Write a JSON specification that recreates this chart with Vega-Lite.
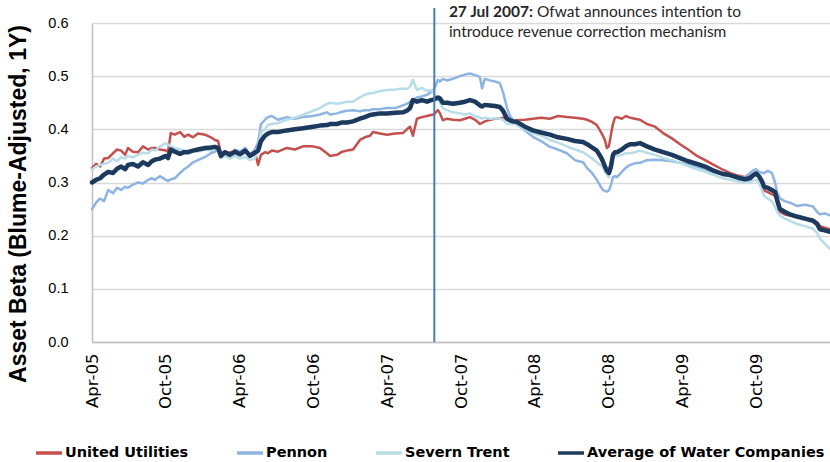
{
  "$schema": "https://vega.github.io/schema/vega-lite/v6.json",
  "width": 738,
  "height": 319,
  "autosize": {"type": "none"},
  "padding": {"left": 92, "top": 23, "right": 0, "bottom": 120},
  "background": "white",
  "config": {
    "view": {"stroke": null},
    "font": "Liberation Sans",
    "legend": {
      "orient": "none", "legendX": -58, "legendY": 415, "direction": "horizontal", "title": null,
      "symbolType": "stroke", "symbolSize": 676, "symbolStrokeWidth": 3.5,
      "labelFont": "DejaVu Sans", "labelFontWeight": "bold", "labelFontSize": 14.5, "labelColor": "#000000",
      "labelOffset": 1, "columnPadding": 41, "padding": 0, "labelLimit": 400
    }
  },
  "datasets": {
    "beta": [
      {"d":"2005-04-01","UU":0.327,"PN":0.250,"ST":0.325,"AV":0.300},
      {"d":"2005-04-11","UU":0.335,"PN":0.262,"ST":0.330,"AV":0.305},
      {"d":"2005-04-21","UU":0.330,"PN":0.270,"ST":0.333,"AV":0.308},
      {"d":"2005-05-01","UU":0.345,"PN":0.265,"ST":0.335,"AV":0.315},
      {"d":"2005-05-11","UU":0.346,"PN":0.286,"ST":0.337,"AV":0.320},
      {"d":"2005-05-23","UU":0.355,"PN":0.280,"ST":0.345,"AV":0.318},
      {"d":"2005-06-02","UU":0.362,"PN":0.290,"ST":0.340,"AV":0.326},
      {"d":"2005-06-12","UU":0.360,"PN":0.286,"ST":0.348,"AV":0.330},
      {"d":"2005-06-22","UU":0.352,"PN":0.292,"ST":0.345,"AV":0.325},
      {"d":"2005-06-29","UU":0.365,"PN":0.290,"ST":0.350,"AV":0.333},
      {"d":"2005-07-11","UU":0.358,"PN":0.296,"ST":0.347,"AV":0.335},
      {"d":"2005-07-24","UU":0.357,"PN":0.300,"ST":0.352,"AV":0.330},
      {"d":"2005-08-05","UU":0.368,"PN":0.298,"ST":0.356,"AV":0.338},
      {"d":"2005-08-18","UU":0.362,"PN":0.305,"ST":0.355,"AV":0.333},
      {"d":"2005-08-27","UU":0.365,"PN":0.308,"ST":0.362,"AV":0.340},
      {"d":"2005-09-04","UU":0.365,"PN":0.305,"ST":0.360,"AV":0.343},
      {"d":"2005-09-16","UU":0.362,"PN":0.312,"ST":0.368,"AV":0.345},
      {"d":"2005-10-01","UU":0.360,"PN":0.305,"ST":0.374,"AV":0.350},
      {"d":"2005-10-06","UU":0.358,"PN":0.303,"ST":0.372,"AV":0.346},
      {"d":"2005-10-13","UU":0.393,"PN":0.306,"ST":0.367,"AV":0.362},
      {"d":"2005-10-23","UU":0.390,"PN":0.308,"ST":0.365,"AV":0.358},
      {"d":"2005-11-05","UU":0.395,"PN":0.318,"ST":0.362,"AV":0.354},
      {"d":"2005-11-15","UU":0.386,"PN":0.325,"ST":0.360,"AV":0.357},
      {"d":"2005-11-25","UU":0.390,"PN":0.330,"ST":0.360,"AV":0.357},
      {"d":"2005-12-07","UU":0.385,"PN":0.338,"ST":0.362,"AV":0.360},
      {"d":"2005-12-19","UU":0.392,"PN":0.342,"ST":0.358,"AV":0.362},
      {"d":"2006-01-06","UU":0.390,"PN":0.348,"ST":0.362,"AV":0.365},
      {"d":"2006-01-20","UU":0.385,"PN":0.355,"ST":0.360,"AV":0.366},
      {"d":"2006-01-30","UU":0.380,"PN":0.358,"ST":0.365,"AV":0.367},
      {"d":"2006-02-07","UU":0.378,"PN":0.362,"ST":0.360,"AV":0.365},
      {"d":"2006-02-14","UU":0.355,"PN":0.355,"ST":0.346,"AV":0.350},
      {"d":"2006-02-24","UU":0.358,"PN":0.358,"ST":0.350,"AV":0.357},
      {"d":"2006-03-08","UU":0.356,"PN":0.352,"ST":0.345,"AV":0.352},
      {"d":"2006-03-21","UU":0.360,"PN":0.362,"ST":0.350,"AV":0.358},
      {"d":"2006-04-02","UU":0.355,"PN":0.358,"ST":0.345,"AV":0.353},
      {"d":"2006-04-15","UU":0.362,"PN":0.365,"ST":0.348,"AV":0.360},
      {"d":"2006-04-27","UU":0.352,"PN":0.352,"ST":0.342,"AV":0.350},
      {"d":"2006-05-09","UU":0.358,"PN":0.362,"ST":0.345,"AV":0.356},
      {"d":"2006-05-17","UU":0.333,"PN":0.375,"ST":0.360,"AV":0.360},
      {"d":"2006-05-24","UU":0.352,"PN":0.410,"ST":0.395,"AV":0.378},
      {"d":"2006-06-03","UU":0.357,"PN":0.418,"ST":0.400,"AV":0.388},
      {"d":"2006-06-10","UU":0.355,"PN":0.423,"ST":0.408,"AV":0.392},
      {"d":"2006-06-20","UU":0.360,"PN":0.425,"ST":0.410,"AV":0.395},
      {"d":"2006-07-05","UU":0.358,"PN":0.418,"ST":0.412,"AV":0.395},
      {"d":"2006-07-27","UU":0.365,"PN":0.423,"ST":0.418,"AV":0.398},
      {"d":"2006-08-16","UU":0.362,"PN":0.420,"ST":0.422,"AV":0.400},
      {"d":"2006-09-05","UU":0.368,"PN":0.423,"ST":0.427,"AV":0.402},
      {"d":"2006-09-30","UU":0.368,"PN":0.425,"ST":0.435,"AV":0.405},
      {"d":"2006-10-17","UU":0.365,"PN":0.428,"ST":0.440,"AV":0.407},
      {"d":"2006-11-03","UU":0.355,"PN":0.432,"ST":0.448,"AV":0.408},
      {"d":"2006-11-11","UU":0.350,"PN":0.428,"ST":0.450,"AV":0.410},
      {"d":"2006-11-28","UU":0.352,"PN":0.430,"ST":0.448,"AV":0.410},
      {"d":"2006-12-11","UU":0.358,"PN":0.433,"ST":0.450,"AV":0.413},
      {"d":"2006-12-23","UU":0.360,"PN":0.435,"ST":0.452,"AV":0.413},
      {"d":"2007-01-07","UU":0.362,"PN":0.436,"ST":0.452,"AV":0.415},
      {"d":"2007-01-24","UU":0.380,"PN":0.434,"ST":0.460,"AV":0.420},
      {"d":"2007-02-05","UU":0.385,"PN":0.436,"ST":0.465,"AV":0.423},
      {"d":"2007-02-18","UU":0.388,"PN":0.436,"ST":0.468,"AV":0.427},
      {"d":"2007-02-25","UU":0.395,"PN":0.438,"ST":0.468,"AV":0.428},
      {"d":"2007-03-15","UU":0.392,"PN":0.438,"ST":0.472,"AV":0.430},
      {"d":"2007-04-01","UU":0.390,"PN":0.440,"ST":0.474,"AV":0.430},
      {"d":"2007-04-21","UU":0.392,"PN":0.440,"ST":0.475,"AV":0.431},
      {"d":"2007-05-10","UU":0.393,"PN":0.445,"ST":0.477,"AV":0.432},
      {"d":"2007-05-20","UU":0.400,"PN":0.448,"ST":0.476,"AV":0.435},
      {"d":"2007-05-28","UU":0.405,"PN":0.452,"ST":0.480,"AV":0.440},
      {"d":"2007-06-04","UU":0.388,"PN":0.455,"ST":0.493,"AV":0.455},
      {"d":"2007-06-14","UU":0.420,"PN":0.460,"ST":0.474,"AV":0.452},
      {"d":"2007-06-26","UU":0.423,"PN":0.462,"ST":0.478,"AV":0.455},
      {"d":"2007-07-09","UU":0.425,"PN":0.465,"ST":0.472,"AV":0.452},
      {"d":"2007-07-19","UU":0.427,"PN":0.470,"ST":0.474,"AV":0.455},
      {"d":"2007-07-26","UU":0.428,"PN":0.475,"ST":0.468,"AV":0.456},
      {"d":"2007-08-05","UU":0.436,"PN":0.493,"ST":0.455,"AV":0.460},
      {"d":"2007-08-10","UU":0.430,"PN":0.490,"ST":0.450,"AV":0.458},
      {"d":"2007-08-17","UU":0.417,"PN":0.495,"ST":0.440,"AV":0.450},
      {"d":"2007-08-27","UU":0.420,"PN":0.492,"ST":0.436,"AV":0.450},
      {"d":"2007-09-11","UU":0.418,"PN":0.495,"ST":0.432,"AV":0.448},
      {"d":"2007-09-28","UU":0.417,"PN":0.500,"ST":0.430,"AV":0.450},
      {"d":"2007-10-11","UU":0.420,"PN":0.503,"ST":0.428,"AV":0.452},
      {"d":"2007-10-23","UU":0.423,"PN":0.505,"ST":0.430,"AV":0.455},
      {"d":"2007-11-05","UU":0.418,"PN":0.502,"ST":0.425,"AV":0.452},
      {"d":"2007-11-17","UU":0.410,"PN":0.498,"ST":0.422,"AV":0.445},
      {"d":"2007-11-22","UU":0.412,"PN":0.477,"ST":0.420,"AV":0.443},
      {"d":"2007-11-29","UU":0.415,"PN":0.495,"ST":0.422,"AV":0.446},
      {"d":"2007-12-12","UU":0.418,"PN":0.492,"ST":0.420,"AV":0.445},
      {"d":"2007-12-24","UU":0.420,"PN":0.490,"ST":0.421,"AV":0.444},
      {"d":"2008-01-05","UU":0.420,"PN":0.487,"ST":0.420,"AV":0.442},
      {"d":"2008-01-13","UU":0.422,"PN":0.470,"ST":0.418,"AV":0.435},
      {"d":"2008-01-23","UU":0.418,"PN":0.440,"ST":0.410,"AV":0.420},
      {"d":"2008-01-30","UU":0.418,"PN":0.425,"ST":0.410,"AV":0.417},
      {"d":"2008-02-07","UU":0.416,"PN":0.417,"ST":0.410,"AV":0.415},
      {"d":"2008-02-16","UU":0.417,"PN":0.410,"ST":0.408,"AV":0.414},
      {"d":"2008-03-07","UU":0.418,"PN":0.398,"ST":0.400,"AV":0.405},
      {"d":"2008-03-27","UU":0.420,"PN":0.386,"ST":0.393,"AV":0.398},
      {"d":"2008-04-16","UU":0.422,"PN":0.378,"ST":0.388,"AV":0.394},
      {"d":"2008-05-08","UU":0.420,"PN":0.367,"ST":0.380,"AV":0.390},
      {"d":"2008-05-28","UU":0.425,"PN":0.362,"ST":0.375,"AV":0.385},
      {"d":"2008-06-19","UU":0.423,"PN":0.355,"ST":0.368,"AV":0.382},
      {"d":"2008-07-09","UU":0.422,"PN":0.342,"ST":0.362,"AV":0.378},
      {"d":"2008-07-29","UU":0.420,"PN":0.338,"ST":0.357,"AV":0.376},
      {"d":"2008-08-08","UU":0.418,"PN":0.327,"ST":0.352,"AV":0.372},
      {"d":"2008-08-20","UU":0.414,"PN":0.318,"ST":0.345,"AV":0.366},
      {"d":"2008-09-01","UU":0.408,"PN":0.305,"ST":0.338,"AV":0.360},
      {"d":"2008-09-11","UU":0.395,"PN":0.292,"ST":0.332,"AV":0.348},
      {"d":"2008-09-16","UU":0.388,"PN":0.286,"ST":0.330,"AV":0.340},
      {"d":"2008-09-21","UU":0.380,"PN":0.284,"ST":0.320,"AV":0.330},
      {"d":"2008-09-26","UU":0.365,"PN":0.283,"ST":0.315,"AV":0.322},
      {"d":"2008-10-01","UU":0.368,"PN":0.285,"ST":0.310,"AV":0.318},
      {"d":"2008-10-06","UU":0.390,"PN":0.295,"ST":0.322,"AV":0.330},
      {"d":"2008-10-11","UU":0.410,"PN":0.310,"ST":0.345,"AV":0.352},
      {"d":"2008-10-16","UU":0.422,"PN":0.312,"ST":0.350,"AV":0.357},
      {"d":"2008-10-21","UU":0.423,"PN":0.310,"ST":0.350,"AV":0.357},
      {"d":"2008-11-02","UU":0.420,"PN":0.320,"ST":0.352,"AV":0.362},
      {"d":"2008-11-12","UU":0.425,"PN":0.328,"ST":0.355,"AV":0.368},
      {"d":"2008-11-22","UU":0.422,"PN":0.333,"ST":0.355,"AV":0.372},
      {"d":"2008-12-04","UU":0.420,"PN":0.336,"ST":0.357,"AV":0.372},
      {"d":"2008-12-17","UU":0.418,"PN":0.337,"ST":0.360,"AV":0.374},
      {"d":"2009-01-03","UU":0.410,"PN":0.342,"ST":0.356,"AV":0.368},
      {"d":"2009-01-23","UU":0.405,"PN":0.343,"ST":0.352,"AV":0.362},
      {"d":"2009-02-12","UU":0.393,"PN":0.342,"ST":0.346,"AV":0.357},
      {"d":"2009-03-06","UU":0.383,"PN":0.340,"ST":0.342,"AV":0.352},
      {"d":"2009-03-26","UU":0.372,"PN":0.337,"ST":0.337,"AV":0.346},
      {"d":"2009-04-15","UU":0.362,"PN":0.334,"ST":0.331,"AV":0.340},
      {"d":"2009-05-07","UU":0.350,"PN":0.330,"ST":0.325,"AV":0.335},
      {"d":"2009-05-27","UU":0.342,"PN":0.325,"ST":0.320,"AV":0.330},
      {"d":"2009-06-15","UU":0.334,"PN":0.320,"ST":0.315,"AV":0.323},
      {"d":"2009-07-10","UU":0.324,"PN":0.316,"ST":0.308,"AV":0.316},
      {"d":"2009-07-27","UU":0.318,"PN":0.314,"ST":0.305,"AV":0.314},
      {"d":"2009-08-16","UU":0.313,"PN":0.311,"ST":0.302,"AV":0.309},
      {"d":"2009-09-03","UU":0.310,"PN":0.310,"ST":0.300,"AV":0.306},
      {"d":"2009-09-15","UU":0.312,"PN":0.318,"ST":0.301,"AV":0.308},
      {"d":"2009-09-22","UU":0.315,"PN":0.322,"ST":0.303,"AV":0.313},
      {"d":"2009-09-30","UU":0.318,"PN":0.325,"ST":0.305,"AV":0.317},
      {"d":"2009-10-07","UU":0.310,"PN":0.320,"ST":0.300,"AV":0.312},
      {"d":"2009-10-15","UU":0.295,"PN":0.318,"ST":0.285,"AV":0.302},
      {"d":"2009-10-20","UU":0.285,"PN":0.318,"ST":0.275,"AV":0.292},
      {"d":"2009-10-29","UU":0.282,"PN":0.322,"ST":0.270,"AV":0.290},
      {"d":"2009-11-08","UU":0.278,"PN":0.318,"ST":0.265,"AV":0.286},
      {"d":"2009-11-16","UU":0.275,"PN":0.300,"ST":0.255,"AV":0.282},
      {"d":"2009-11-21","UU":0.262,"PN":0.282,"ST":0.245,"AV":0.268},
      {"d":"2009-11-28","UU":0.245,"PN":0.270,"ST":0.238,"AV":0.250},
      {"d":"2009-12-10","UU":0.240,"PN":0.265,"ST":0.232,"AV":0.245},
      {"d":"2009-12-23","UU":0.238,"PN":0.262,"ST":0.228,"AV":0.240},
      {"d":"2010-01-09","UU":0.235,"PN":0.256,"ST":0.222,"AV":0.236},
      {"d":"2010-01-29","UU":0.232,"PN":0.258,"ST":0.218,"AV":0.232},
      {"d":"2010-02-18","UU":0.230,"PN":0.255,"ST":0.213,"AV":0.228},
      {"d":"2010-02-28","UU":0.225,"PN":0.245,"ST":0.205,"AV":0.222},
      {"d":"2010-03-07","UU":0.218,"PN":0.240,"ST":0.195,"AV":0.212},
      {"d":"2010-03-19","UU":0.215,"PN":0.242,"ST":0.185,"AV":0.210},
      {"d":"2010-04-01","UU":0.212,"PN":0.238,"ST":0.175,"AV":0.207}
    ]
  },
  "encoding": {
    "x": {
      "field": "d", "type": "temporal",
      "scale": {"type": "utc", "nice": false, "domain": [{"year": 2005, "month": 4, "date": 1, "utc": true}, {"year": 2010, "month": 4, "date": 1, "utc": true}]},
      "axis": {
        "values": [
          {"year": 2005, "month": 4, "date": 1, "utc": true}, {"year": 2005, "month": 10, "date": 1, "utc": true},
          {"year": 2006, "month": 4, "date": 1, "utc": true}, {"year": 2006, "month": 10, "date": 1, "utc": true},
          {"year": 2007, "month": 4, "date": 1, "utc": true}, {"year": 2007, "month": 10, "date": 1, "utc": true},
          {"year": 2008, "month": 4, "date": 1, "utc": true}, {"year": 2008, "month": 10, "date": 1, "utc": true},
          {"year": 2009, "month": 4, "date": 1, "utc": true}, {"year": 2009, "month": 10, "date": 1, "utc": true}
        ],
        "format": "%b-%y", "labelAngle": 270, "labelFont": "DejaVu Sans", "labelFontSize": 16.5, "labelColor": "#000000",
        "labelPadding": 11, "ticks": false, "tickSize": 0, "grid": false, "domainColor": "#BFBFBF", "domainWidth": 1.5,
        "title": null, "labelOverlap": false, "labelFlush": false
      }
    },
    "y": {
      "field": "v", "type": "quantitative",
      "scale": {"domain": [0, 0.6], "nice": false},
      "axis": {
        "values": [0, 0.1, 0.2, 0.3, 0.4, 0.5, 0.6], "format": ".1f",
        "labelFont": "Liberation Sans", "labelFontSize": 14.5, "labelColor": "#000000", "labelPadding": 24,
        "ticks": false, "tickSize": 0, "grid": true, "gridColor": "#D9D9D9", "gridWidth": 1.5,
        "domainColor": "#BFBFBF", "domainWidth": 1.5,
        "title": "Asset Beta (Blume-Adjusted, 1Y)", "titleFont": "Liberation Sans", "titleFontSize": 23,
        "titleFontWeight": "bold", "titleColor": "#000000", "titleX": -62, "titleY": 180.5
      }
    }
  },
  "layer": [
    {
      "data": {"name": "beta"},
      "transform": [{"fold": ["UU", "PN", "ST"], "as": ["s", "v"]}],
      "mark": {"type": "line", "strokeWidth": 2.5, "strokeJoin": "round", "strokeCap": "round"},
      "encoding": {
        "color": {
          "field": "s", "type": "nominal",
          "scale": {"domain": ["UU", "PN", "ST", "AV"], "range": ["#C4504D", "#8EB4E3", "#B7DDE8", "#1C3A5E"]},
          "legend": {"labelExpr": "datum.label == 'UU' ? 'United Utilities' : datum.label == 'PN' ? 'Pennon' : datum.label == 'ST' ? 'Severn Trent' : 'Average of Water Companies'"}
        }
      }
    },
    {
      "data": {"name": "beta"},
      "transform": [{"fold": ["AV"], "as": ["s", "v"]}],
      "mark": {"type": "line", "strokeWidth": 4.5, "strokeJoin": "round", "strokeCap": "round"},
      "encoding": {
        "color": {
          "field": "s", "type": "nominal",
          "scale": {"domain": ["UU", "PN", "ST", "AV"], "range": ["#C4504D", "#8EB4E3", "#B7DDE8", "#1C3A5E"]},
          "legend": {"labelExpr": "datum.label == 'UU' ? 'United Utilities' : datum.label == 'PN' ? 'Pennon' : datum.label == 'ST' ? 'Severn Trent' : 'Average of Water Companies'"}
        }
      }
    },
    {
      "data": {"values": [{"d": "2007-07-27", "v": 0, "hi": 0.628}]},
      "mark": {"type": "rule", "color": "#4A7EBB", "strokeWidth": 2},
      "encoding": {"y2": {"field": "hi"}}
    },
    {
      "data": {"values": [{"d": "2007-09-01", "v": 0.611, "t": "27 Jul 2007:"}]},
      "mark": {"type": "text", "align": "left", "baseline": "alphabetic", "font": "Lato", "fontWeight": "bold", "fontSize": 15.5, "color": "#262626"},
      "encoding": {"text": {"field": "t"}}
    },
    {
      "data": {"values": [
        {"d": "2008-04-06", "v": 0.611, "t": "Ofwat announces intention to"},
        {"d": "2007-09-01", "v": 0.5736, "t": "introduce revenue correction mechanism"}
      ]},
      "mark": {"type": "text", "align": "left", "baseline": "alphabetic", "font": "Lato", "fontSize": 15.5, "color": "#262626"},
      "encoding": {"text": {"field": "t"}}
    }
  ]
}
